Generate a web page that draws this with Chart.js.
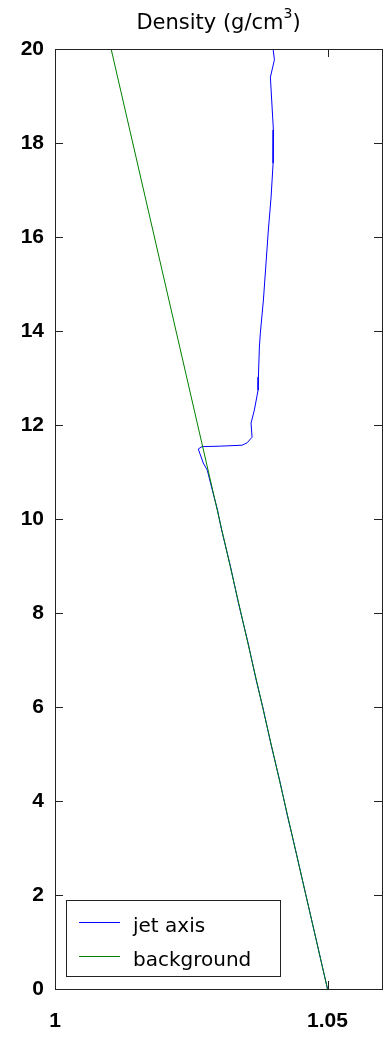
<!DOCTYPE html>
<html>
<head>
<meta charset="utf-8">
<script src="https://cdn.jsdelivr.net/npm/chart.js@4"></script>
<style>
  html, body { margin: 0; padding: 0; background: #fff; }
  canvas { display: block; }
</style>
</head>
<body>
<canvas id="density-chart" width="392" height="1037"></canvas>
<script>
// height (y) vs density (x)
const jetHeight = [20.0, 19.77, 19.4, 18.28, 17.57, 16.85, 16.15, 14.66, 13.96, 13.66, 13.02, 12.74, 12.32, 12.04, 11.74, 11.62, 11.57, 11.55, 11.54, 11.49, 11.19, 11.04, 10.6, 10.2, 9.8, 9.0, 8.2, 7.4, 6.6, 6.0, 5.2, 4.4, 3.7, 3.0, 2.0, 1.0, 0];
const jetDensity = [1.04002, 1.04026, 1.03952, 1.04007, 1.04002, 1.03965, 1.03915, 1.03824, 1.03768, 1.0375, 1.03732, 1.03726, 1.03658, 1.03597, 1.03616, 1.03524, 1.03432, 1.03033, 1.02697, 1.02629, 1.02721, 1.02794, 1.02890, 1.02980, 1.03050, 1.03218, 1.03368, 1.03535, 1.03686, 1.03812, 1.03964, 1.04130, 1.04262, 1.04405, 1.04603, 1.04802, 1.05];
const bgHeight = [0, 20];
const bgDensity = [1.05, 1.0103];

const seriesNames = ['jet axis', 'background'];
const seriesColors = ['#0000ff', '#008000'];
const xTicks = [1, 1.05];
const yTicks = [0, 2, 4, 6, 8, 10, 12, 14, 16, 18, 20];

const toPoints = (xs, ys) => xs.map((x, i) => ({ x: x, y: ys[i] }));

const textFont = '"DejaVu Sans", sans-serif';
const tickFont = { family: '"Liberation Sans", Arial, sans-serif', size: 21, weight: 'bold' };

// box, inward ticks, title and legend in matlab style
const matlabFrame = {
  id: 'matlabFrame',
  afterDraw(chart) {
    const ctx = chart.ctx;
    const a = chart.chartArea;
    const sx = chart.scales.x, sy = chart.scales.y;
    ctx.save();
    ctx.strokeStyle = '#222';
    ctx.lineWidth = 1;
    ctx.strokeRect(Math.round(a.left) + 0.5, Math.round(a.top) + 0.5,
      Math.round(a.right - a.left), Math.round(a.bottom - a.top));
    ctx.beginPath();
    yTicks.forEach(v => {
      const p = Math.round(sy.getPixelForValue(v)) + 0.5;
      ctx.moveTo(a.left, p); ctx.lineTo(a.left + 8, p);
      ctx.moveTo(a.right, p); ctx.lineTo(a.right - 8, p);
    });
    xTicks.forEach(v => {
      const p = Math.round(sx.getPixelForValue(v)) + 0.5;
      ctx.moveTo(p, a.top); ctx.lineTo(p, a.top + 8);
      ctx.moveTo(p, a.bottom); ctx.lineTo(p, a.bottom - 8);
    });
    ctx.stroke();

    // title with superscript
    ctx.fillStyle = '#000';
    ctx.textBaseline = 'alphabetic';
    const bigFont = '21px ' + textFont;
    const supFont = '14px ' + textFont;
    const main = 'Density (g/cm';
    ctx.font = bigFont;
    const w1 = ctx.measureText(main).width;
    const w3 = ctx.measureText(')').width;
    ctx.font = supFont;
    const w2 = ctx.measureText('3').width;
    const tx = (a.left + a.right) / 2 - (w1 + w2 + w3) / 2;
    ctx.font = bigFont;
    ctx.fillText(main, tx, 29);
    ctx.fillText(')', tx + w1 + w2, 29);
    ctx.font = supFont;
    ctx.fillText('3', tx + w1, 18);

    // legend box
    const lx = 66, ly = 900, lw = 214, lh = 76;
    ctx.fillStyle = '#fff';
    ctx.fillRect(lx, ly, lw, lh);
    ctx.strokeStyle = '#222';
    ctx.strokeRect(lx + 0.5, ly + 0.5, lw, lh);
    ctx.font = '20px ' + textFont;
    const rows = [922, 956];
    seriesNames.forEach((name, i) => {
      ctx.strokeStyle = seriesColors[i];
      ctx.beginPath();
      ctx.moveTo(79, rows[i] + 0.5);
      ctx.lineTo(120, rows[i] + 0.5);
      ctx.stroke();
      ctx.fillStyle = '#000';
      ctx.fillText(name, 133, rows[i] + 10);
    });
    ctx.restore();
  }
};

new Chart(document.getElementById('density-chart'), {
  type: 'scatter',
  data: {
    datasets: [
      {
        label: seriesNames[0],
        data: toPoints(jetDensity, jetHeight),
        showLine: true,
        borderColor: seriesColors[0],
        borderWidth: 1,
        pointRadius: 0,
        order: 1,
      },
      {
        label: seriesNames[1],
        data: toPoints(bgDensity, bgHeight),
        showLine: true,
        borderColor: seriesColors[1],
        borderWidth: 1,
        pointRadius: 0,
        order: 0,
      },
    ],
  },
  options: {
    responsive: false,
    animation: false,
    devicePixelRatio: 1,
    layout: { padding: { top: 49, right: 10, left: 0, bottom: 0 } },
    plugins: {
      legend: { display: false },
      tooltip: { enabled: false },
      title: { display: false },
    },
    scales: {
      x: {
        type: 'linear',
        min: 1,
        max: 1.06,
        afterBuildTicks: (s) => { s.ticks = xTicks.map(v => ({ value: v })); },
        afterFit: (s) => { s.height = 48; },
        grid: { display: false, drawTicks: false },
        border: { display: false },
        ticks: {
          color: '#000',
          padding: 20,
          maxRotation: 0,
          font: tickFont,
          callback: (v) => String(v),
        },
      },
      y: {
        type: 'linear',
        min: 0,
        max: 20,
        afterBuildTicks: (s) => { s.ticks = yTicks.map(v => ({ value: v })); },
        afterFit: (s) => { s.width = 55; },
        grid: { display: false, drawTicks: false },
        border: { display: false },
        ticks: {
          color: '#000',
          padding: 11,
          font: tickFont,
        },
      },
    },
  },
  plugins: [matlabFrame],
});
</script>
</body>
</html>
